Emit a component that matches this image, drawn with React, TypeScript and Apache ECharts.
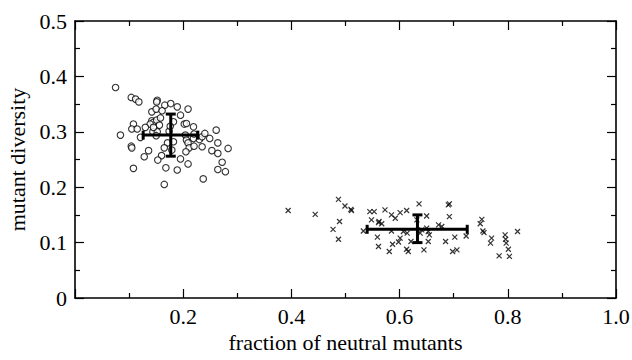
import React, { useEffect, useRef } from "react";
import * as echarts from "echarts";

const circleX = [0.075,0.104,0.112,0.118,0.152,0.151,0.166,0.177,0.189,0.209,0.142,0.150,0.161,0.195,0.182,0.142,0.145,0.151,0.156,0.139,0.108,0.105,0.115,0.130,0.144,0.152,0.174,0.202,0.206,0.219,0.084,0.121,0.150,0.204,0.206,0.209,0.219,0.230,0.235,0.240,0.249,0.261,0.264,0.182,0.171,0.165,0.179,0.211,0.205,0.235,0.253,0.264,0.283,0.104,0.105,0.136,0.128,0.160,0.153,0.195,0.209,0.272,0.264,0.278,0.108,0.168,0.189,0.237,0.165,0.145,0.220,0.220,0.176,0.158];
const circleY = [0.380,0.362,0.359,0.354,0.357,0.354,0.348,0.351,0.345,0.341,0.336,0.341,0.338,0.330,0.318,0.320,0.317,0.321,0.312,0.314,0.314,0.305,0.305,0.308,0.300,0.300,0.301,0.314,0.315,0.309,0.294,0.290,0.293,0.294,0.285,0.280,0.288,0.286,0.291,0.297,0.288,0.303,0.280,0.282,0.280,0.271,0.267,0.271,0.264,0.273,0.266,0.261,0.270,0.274,0.271,0.266,0.255,0.257,0.249,0.251,0.242,0.245,0.232,0.228,0.234,0.235,0.231,0.215,0.205,0.308,0.296,0.274,0.310,0.325];

const crossX = [0.394,0.444,0.487,0.499,0.510,0.511,0.489,0.477,0.487,0.533,0.545,0.553,0.573,0.548,0.561,0.567,0.585,0.592,0.601,0.613,0.636,0.650,0.692,0.692,0.559,0.561,0.581,0.587,0.598,0.613,0.616,0.621,0.645,0.653,0.655,0.650,0.672,0.678,0.685,0.702,0.698,0.706,0.723,0.607,0.614,0.585,0.632,0.638,0.641,0.601,0.749,0.752,0.754,0.756,0.770,0.768,0.795,0.796,0.797,0.801,0.803,0.784,0.818,0.653,0.690,0.562];
const crossY = [0.158,0.151,0.178,0.166,0.160,0.158,0.138,0.124,0.106,0.121,0.156,0.156,0.159,0.141,0.136,0.134,0.150,0.144,0.154,0.158,0.170,0.148,0.170,0.147,0.110,0.093,0.084,0.097,0.101,0.088,0.084,0.102,0.087,0.102,0.114,0.126,0.132,0.129,0.102,0.110,0.084,0.087,0.112,0.120,0.117,0.121,0.141,0.117,0.123,0.108,0.134,0.142,0.121,0.118,0.108,0.099,0.114,0.106,0.099,0.088,0.075,0.076,0.120,0.120,0.168,0.138];

// error bars: centre x, centre y, x low, x high, y low, y high
const barCx = [0.177, 0.633];
const barCy = [0.294, 0.124];
const barXlo = [0.126, 0.540];
const barXhi = [0.227, 0.725];
const barYlo = [0.256, 0.100];
const barYhi = [0.332, 0.150];

const xTicks = [0.2, 0.4, 0.6, 0.8, 1.0];
const yTicks = [0, 0.1, 0.2, 0.3, 0.4, 0.5];

const FONT = "Liberation Serif";

export default function App() {
  const ref = useRef<HTMLDivElement>(null);
  useEffect(() => {
    if (!ref.current) return;
    const chart = echarts.init(ref.current, null, { renderer: "svg" });
    const axisLine = { show: true, onZero: false, lineStyle: { color: "#000", width: 1.6 } };
    const tick = { show: true, inside: true, length: 9, lineStyle: { color: "#000", width: 1.2 } };
    const minor = { show: true, splitNumber: 2, length: 5, lineStyle: { color: "#000", width: 1.2 } };
    const baseX = {
      type: "value",
      min: 0,
      max: 1,
      interval: 0.2,
      axisLine,
      axisTick: tick,
      minorTick: minor,
      splitLine: { show: false },
      minorSplitLine: { show: false },
    };
    const baseY = {
      type: "value",
      min: 0,
      max: 0.5,
      interval: 0.1,
      axisLine,
      axisTick: tick,
      minorTick: minor,
      splitLine: { show: false },
      minorSplitLine: { show: false },
    };
    const errData = barCx.map((c, i) => [c, barCy[i], barXlo[i], barXhi[i], barYlo[i], barYhi[i]]);
    chart.setOption({
      animation: false,
      backgroundColor: "#fff",
      grid: { left: 75, right: 16, top: 21, bottom: 62, containLabel: false, outerBoundsMode: "none" },
      xAxis: [
        {
          ...baseX,
          position: "bottom",
          name: "fraction of neutral mutants",
          nameLocation: "middle",
          nameGap: 31,
          nameTextStyle: { fontFamily: FONT, fontSize: 22, color: "#000" },
          axisLabel: {
            fontFamily: FONT,
            fontSize: 22,
            color: "#000",
            margin: 7,
            formatter: (v: number) => (xTicks.some((t) => Math.abs(t - v) < 1e-9) ? v.toFixed(1) : ""),
          },
        },
        { ...baseX, position: "top", axisLabel: { show: false } },
      ],
      yAxis: [
        {
          ...baseY,
          position: "left",
          name: "mutant diversity",
          nameLocation: "middle",
          nameGap: 44,
          nameTextStyle: { fontFamily: FONT, fontSize: 22, color: "#000" },
          axisLabel: {
            fontFamily: FONT,
            fontSize: 22,
            color: "#000",
            margin: 8,
            formatter: (v: number) => {
              const t = yTicks.find((k) => Math.abs(k - v) < 1e-9);
              if (t === undefined) return "";
              return t === 0 ? "0" : t.toFixed(1);
            },
          },
        },
        { ...baseY, position: "right", axisLabel: { show: false } },
      ],
      series: [
        {
          type: "scatter",
          data: circleX.map((x, i) => [x, circleY[i]]),
          symbol: "circle",
          symbolSize: 6.5,
          itemStyle: { color: "#fff", borderColor: "#000", borderWidth: 1.1 },
        },
        {
          type: "scatter",
          data: crossX.map((x, i) => [x, crossY[i]]),
          symbol: "path://M0,0L10,10M10,0L0,10",
          symbolSize: 5,
          itemStyle: { color: "none", borderColor: "#000", borderWidth: 1.2 },
        },
        {
          type: "custom",
          data: errData,
          z: 10,
          renderItem: (params: any, api: any) => {
            const xc = api.value(0), yc = api.value(1);
            const l = api.coord([api.value(2), yc]);
            const r = api.coord([api.value(3), yc]);
            const b = api.coord([xc, api.value(4)]);
            const t = api.coord([xc, api.value(5)]);
            const style = { stroke: "#000", lineWidth: 3, fill: "none" };
            const hc = 4.5, vc = 5;
            const ln = (x1: number, y1: number, x2: number, y2: number) => ({
              type: "line",
              shape: { x1, y1, x2, y2 },
              style,
            });
            return {
              type: "group",
              children: [
                ln(l[0], l[1], r[0], r[1]),
                ln(b[0], b[1], t[0], t[1]),
                ln(l[0], l[1] - hc, l[0], l[1] + hc),
                ln(r[0], r[1] - hc, r[0], r[1] + hc),
                ln(t[0] - vc, t[1], t[0] + vc, t[1]),
                ln(b[0] - vc, b[1], b[0] + vc, b[1]),
              ],
            };
          },
        },
      ],
    });
    return () => chart.dispose();
  }, []);
  return (
    <div
      ref={ref}
      style={{ position: "fixed", left: 0, top: 0, width: 632, height: 360, background: "#fff" }}
    />
  );
}
